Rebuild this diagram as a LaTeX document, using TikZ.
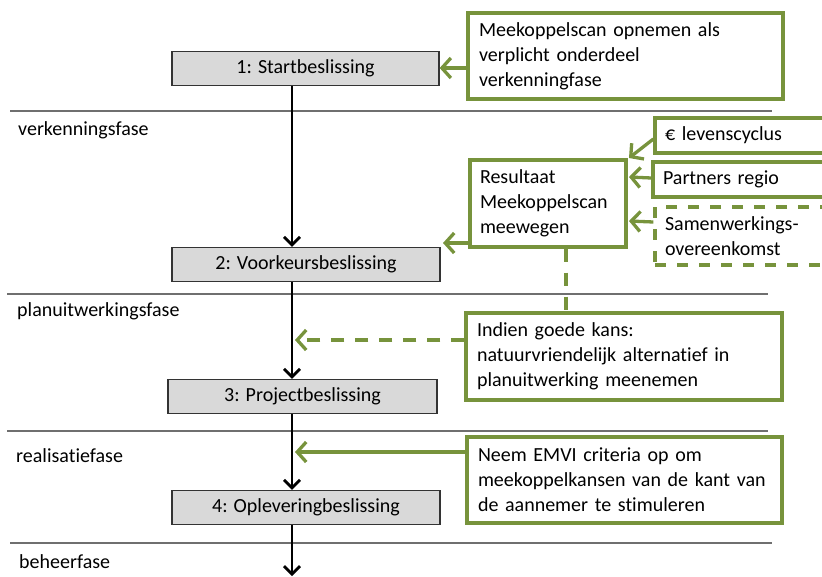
\documentclass[tikz,border=0pt]{standalone}
\usepackage{fontspec}
\setmainfont[Ligatures=NoCommon]{Carlito}
\usetikzlibrary{arrows.meta}
\definecolor{olivegreen}{HTML}{77933C}
\definecolor{boxgray}{HTML}{D9D9D9}
\definecolor{phasegray}{HTML}{6F6F6F}
\begin{document}
\begin{tikzpicture}[x=1pt,y=-1pt,
  txt/.style={font=\fontsize{20}{25}\selectfont},
  graybox/.style={draw=black!80, line width=1.3pt, fill=boxgray, txt, inner sep=0pt, minimum height=34pt},
  gbox/.style={draw=olivegreen, line width=3.3pt, fill=white, txt, align=left, inner xsep=10pt, inner ysep=0pt},
  phaseline/.style={draw=phasegray, line width=1.7pt},
  phaselabel/.style={txt, anchor=west, inner sep=0pt},
  blkarrow/.style={draw=black, line width=2.8pt, -{Straight Barb[length=8pt,width=16pt,line width=2.8pt]}},
  garrow/.style={draw=olivegreen, line width=3.3pt, -{Straight Barb[length=9pt,width=20pt,line width=3.3pt]}},
  gdash/.style={dash pattern=on 13pt off 11pt}
]
\useasboundingbox (0,0) rectangle (822,576);
\clip (0,0) rectangle (822,576);

% phase lines
\draw[phaseline] (10,111) -- (772,111);
\draw[phaseline] (7,294) -- (768,294);
\draw[phaseline] (7,431) -- (768,431);
\draw[phaseline] (10,543) -- (772,543);

% phase labels
\node[phaselabel] (p1) at (18,130) {verkenningsfase};
\node[phaselabel] (p2) at (17,311) {planuitwerkingsfase};
\node[phaselabel] (p3) at (16,456) {realisatiefase};
\node[phaselabel] (p4) at (19,562) {beheerfase};

% decision boxes
\node[graybox, minimum width=267pt] (b1) at (305.5,68.5) {1: Startbeslissing};
\node[graybox, minimum width=268pt] (b2) at (306,264.5) {2: Voorkeursbeslissing};
\node[graybox, minimum width=269pt] (b3) at (302.5,396.5) {3: Projectbeslissing};
\node[graybox, minimum width=268pt] (b4) at (306,507.5) {4: Opleveringbeslissing};

% main flow line
\coordinate (xl) at (292,0);
\coordinate (bottom) at (292,576);
\draw[blkarrow] (b1.south -| xl) -- (b2.north -| xl);
\draw[blkarrow] (b2.south -| xl) -- (b3.north -| xl);
\draw[blkarrow] (b3.south -| xl) -- (b4.north -| xl);
\draw[blkarrow] (b4.south -| xl) -- (bottom);

% green boxes
\node[gbox, minimum width=315pt, minimum height=86pt, text width=293pt] (A) at (625.5,56)
  {Meekoppelscan opnemen als\\verplicht onderdeel\\verkenningfase};
\node[gbox, minimum width=156pt, minimum height=87pt, text width=136pt] (B) at (548,203.5)
  {Resultaat\\Meekoppelscan\\meewegen};
\node[gbox, minimum width=180pt, minimum height=35pt, text width=160pt] (C) at (745,135.5)
  {€ levenscyclus};
\node[gbox, minimum width=182pt, minimum height=35pt, text width=162pt] (D) at (744,179.5)
  {Partners regio};
\node[gbox, dash pattern=on 11pt off 11pt, minimum width=180pt, minimum height=58pt, text width=160pt] (E) at (745,236)
  {Samenwerkings-\\overeenkomst};
\node[gbox, minimum width=316pt, minimum height=87pt, text width=294pt] (F) at (624,356.5)
  {Indien goede kans:\\natuurvriendelijk alternatief in\\planuitwerking meenemen};
\node[gbox, minimum width=315pt, minimum height=86pt, text width=293pt] (G) at (624.5,480)
  {Neem EMVI criteria op om\\meekoppelkansen van de kant van\\de aannemer te stimuleren};

% connector helper coordinates
\coordinate (yA) at (0,68);
\coordinate (yB) at (0,243);
\coordinate (tipB) at (443,243);
\coordinate (tipC) at (629,158);
\coordinate (yC) at (0,139);
\coordinate (yD) at (0,178);
\coordinate (tipD) at (629,177);
\coordinate (yE) at (0,222);
\coordinate (tipE) at (629,221);
\coordinate (xF) at (566,0);
\coordinate (yF) at (0,340);
\coordinate (yG) at (0,452);
\coordinate (xt) at (295,0);

% green connectors
\draw[garrow] (A.west |- yA) -- (b1.east |- yA);
\draw[garrow] (B.west |- yB) -- (tipB);
\draw[garrow] (C.west |- yC) -- (tipC);
\draw[garrow] (D.west |- yD) -- (tipD);
\draw[garrow] (E.west |- yE) -- (tipE);
\draw[draw=olivegreen, line width=3.3pt, gdash] (B.south -| xF) -- (F.north -| xF);
\draw[garrow, gdash] (F.west |- yF) -- (xt |- yF);
\draw[garrow] (G.west |- yG) -- (xt |- yG);
\end{tikzpicture}
\end{document}
